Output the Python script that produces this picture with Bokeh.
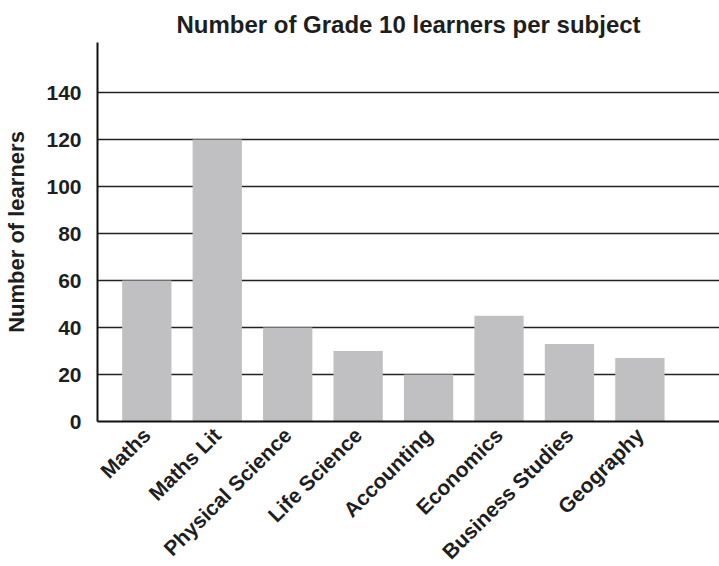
import math
from bokeh.plotting import figure
from bokeh.models import Range1d, FixedTicker, ColumnDataSource
from bokeh.embed import file_html
from bokeh.resources import INLINE

subjects = ["Maths", "Maths Lit", "Physical Science", "Life Science",
            "Accounting", "Economics", "Business Studies", "Geography"]
learners = [60, 120, 40, 30, 20, 45, 33, 27]
y_ticks = [0, 20, 40, 60, 80, 100, 120, 140]

FONT = "Liberation Sans"
TXT = "#1e1e1e"

xs = list(range(len(subjects)))
src = ColumnDataSource(dict(x=xs, y=learners, name=subjects))

p = figure(frame_width=622, frame_height=379, output_backend="svg", toolbar_location=None,
           x_range=Range1d(-0.70, 8.13), y_range=Range1d(0, 161.3),
           title="Number of Grade 10 learners per subject",
           min_border_left=97, min_border_right=0, min_border_top=42,
           min_border_bottom=130)

p.vbar(x="x", top="y", width=0.70, source=src, fill_color="#c0c0c2", line_color=None)

p.title.align = "center"
p.title.text_font = FONT
p.title.text_font_size = "24px"
p.title.text_font_style = "bold"
p.title.text_color = TXT
p.title.offset = 0

p.outline_line_color = None
p.xgrid.grid_line_color = None
p.ygrid.ticker = FixedTicker(ticks=y_ticks[1:])
p.ygrid.grid_line_color = "#222222"
p.ygrid.grid_line_width = 1.6
p.ygrid.level = "underlay"

p.yaxis.ticker = FixedTicker(ticks=y_ticks)
p.yaxis.axis_label = "Number of learners"
p.yaxis.axis_label_text_font = FONT
p.yaxis.axis_label_text_font_size = "22px"
p.yaxis.axis_label_text_font_style = "bold"
p.yaxis.axis_label_text_color = TXT
p.yaxis.axis_label_standoff = 14
p.yaxis.major_label_text_font = FONT
p.yaxis.major_label_text_font_size = "21px"
p.yaxis.major_label_text_font_style = "bold"
p.yaxis.major_label_text_color = TXT
p.yaxis.major_label_standoff = 10
p.yaxis.major_tick_line_color = None
p.yaxis.minor_tick_line_color = None
p.yaxis.axis_line_color = "#111111"
p.yaxis.axis_line_width = 2

p.xaxis.ticker = FixedTicker(ticks=xs)
p.xaxis.major_label_overrides = {i: s for i, s in enumerate(subjects)}
p.xaxis.major_label_orientation = math.pi / 4
p.xaxis.major_label_text_font = FONT
p.xaxis.major_label_text_font_size = "21px"
p.xaxis.major_label_text_font_style = "bold"
p.xaxis.major_label_text_color = TXT
p.xaxis.major_label_standoff = 4
p.xaxis.major_tick_line_color = None
p.xaxis.minor_tick_line_color = None
p.xaxis.axis_line_color = "#111111"
p.xaxis.axis_line_width = 2

open("out.html", "w").write(file_html(p, INLINE))
